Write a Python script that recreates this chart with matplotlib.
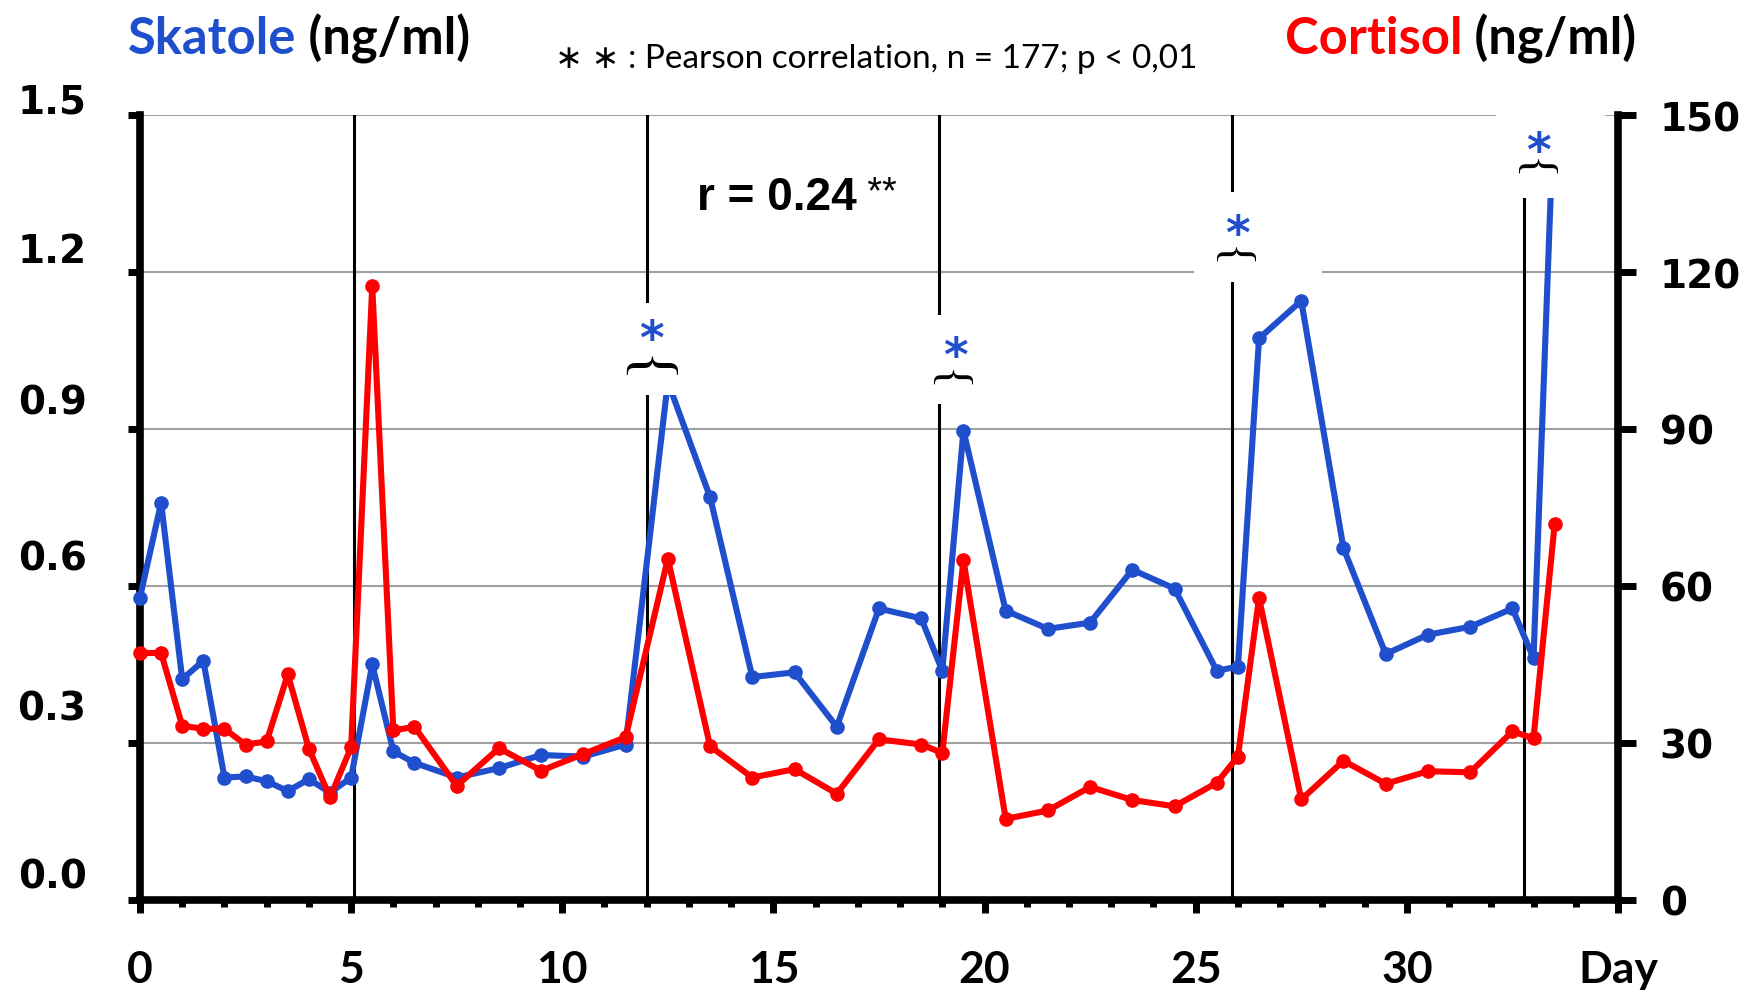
import numpy as np
import matplotlib.pyplot as plt
from matplotlib.patches import Rectangle
from matplotlib.transforms import ScaledTranslation

# sampling days (half-day steps at the start, then daily with extra points around the peaks)
days = [0, 0.5, 1, 1.5, 2, 2.5, 3, 3.5, 4, 4.5, 5, 5.5, 6, 6.5, 7.5, 8.5, 9.5, 10.5,
        11.5, 12.5, 13.5, 14.5, 15.5, 16.5, 17.5, 18.5, 19, 19.5, 20.5, 21.5, 22.5,
        23.5, 24.5, 25.5, 26, 26.5, 27.5, 28.5, 29.5, 30.5, 31.5, 32.5, 33, 33.5]

# skatole, ng/ml (left axis)
skatole = [0.578, 0.759, 0.422, 0.457, 0.234, 0.236, 0.227, 0.208, 0.231, 0.205,
           0.234, 0.45, 0.284, 0.262, 0.234, 0.252, 0.277, 0.274, 0.297, 0.99,
           0.77, 0.426, 0.435, 0.331, 0.557, 0.538, 0.438, 0.897, 0.553, 0.518,
           0.53, 0.631, 0.595, 0.438, 0.446, 1.073, 1.145, 0.672, 0.47, 0.507,
           0.522, 0.557, 0.462, 1.55]

# cortisol, ng/ml (right axis)
cortisol = [47.2, 47.2, 33.3, 32.7, 32.7, 29.7, 30.3, 43.1, 28.9, 19.6, 29.2, 117.3,
            32.4, 33.1, 21.8, 29.0, 24.7, 27.9, 31.1, 65.2, 29.4, 23.4, 25.0, 20.3,
            30.7, 29.7, 28.1, 64.9, 15.5, 17.1, 21.6, 19.1, 17.9, 22.4, 27.4, 57.7,
            19.2, 26.6, 22.2, 24.6, 24.4, 32.2, 30.9, 71.8]

event_days = [5.07, 12.0, 18.93, 25.85, 32.77]

# significance marks
star_x = [12.11, 19.32, 25.98, 33.12]
star_y = [1.07, 1.036, 1.27, 1.429]
brace_x = [11.9, 19.08, 25.79, 32.94]
brace_y = [1.016, 0.994, 1.23, 1.399]
brace_size = [44, 34, 34, 34]
# white boxes behind the marks (x0, x1, y0, y1)
boxes = [(11.4, 12.8, 0.965, 1.14), (18.6, 19.8, 0.948, 1.118),
         (24.96, 27.98, 1.181, 1.353), (32.1, 34.7, 1.341, 1.56)]

skatole_ticks = [0, 0.3, 0.6, 0.9, 1.2, 1.5]
skatole_labels = ['0.0', '0.3', '0.6', '0.9', '1.2', '1.5']
cortisol_ticks = [0, 30, 60, 90, 120, 150]
day_ticks = [0, 5, 10, 15, 20, 25, 30, 35]
day_labels = ['0', '5', '10', '15', '20', '25', '30', 'Day']

BLUE = '#1f4fcc'
RED = '#ff0000'

fig = plt.figure(figsize=(17.52, 9.95), dpi=100)
ax = fig.add_axes([0.0799, 0.0945, 0.8436, 0.7889])
ax.set_xlim(0, 35)
ax.set_ylim(0, 1.5)
ax2 = ax.twinx()
ax2.set_ylim(0, 150)

for v in skatole_ticks[1:]:
    ax.axhline(v, color='#a0a0a0', lw=1.5, zorder=1)
for d in event_days:
    ax.axvline(d, color='black', lw=2.2, zorder=2)

clip1 = Rectangle((-0.02, 0), 1.04, 1, transform=ax.transAxes)
l1, = ax.plot(days, skatole, color=BLUE, lw=4.4, marker='o', ms=9.5, zorder=3)
l1.set_clip_path(clip1)
clip2 = Rectangle((-0.02, 0), 1.04, 1, transform=ax2.transAxes)
l2, = ax2.plot(days, cortisol, color=RED, lw=4.4, marker='o', ms=9.5, zorder=3)
l2.set_clip_path(clip2)

for x0, x1, y0, y1 in boxes:
    ax2.add_patch(Rectangle((x0, y0), x1 - x0, y1 - y0, transform=ax.transData,
                            facecolor='white', edgecolor='none', zorder=4, clip_on=False))

for x, y in zip(star_x, star_y):
    ax2.text(x, y, '*', transform=ax.transData, color=BLUE, fontsize=34,
             family='DejaVu Sans', weight='bold', ha='center', va='center',
             zorder=5, clip_on=False)
for x, y, s in zip(brace_x, brace_y, brace_size):
    ax2.text(x, y, '{', transform=ax.transData, color='black', fontsize=s,
             family='Liberation Serif', rotation=-90, ha='center', va='center',
             zorder=5, clip_on=False)

rt = ax2.text(13.2, 1.343, 'r = 0.24', transform=ax.transData, fontsize=33,
              family='Liberation Sans', weight='bold', va='center', zorder=5)
ax2.annotate(' **', xy=(1, 1), xycoords=rt, va='top', ha='left', fontsize=27,
             family='Liberation Sans', zorder=5)

# axes styling
for side in ['top', 'right']:
    ax.spines[side].set_visible(False)
for side in ['top', 'left', 'bottom']:
    ax2.spines[side].set_visible(False)
ax.spines['left'].set_linewidth(5.5)
ax.spines['bottom'].set_linewidth(5.5)
ax2.spines['right'].set_linewidth(5.5)

ax.set_yticks(skatole_ticks)
ax.set_yticklabels(skatole_labels, family='DejaVu Sans', weight='bold', fontsize=28)
ax.tick_params(axis='y', direction='out', length=9, width=5, pad=29.5)
up = [27, 38, 31, 30, 25, 18]
for lbl, dy in zip(ax.get_yticklabels(), up):
    lbl.set_transform(lbl.get_transform() + ScaledTranslation(0, dy / 100, fig.dpi_scale_trans))

ax2.set_yticks(cortisol_ticks)
ax2.set_yticklabels([str(v) for v in cortisol_ticks], family='DejaVu Sans',
                    weight='bold', fontsize=28)
ax2.tick_params(axis='y', direction='out', length=13, width=5, pad=17)

ax.set_xticks(day_ticks)
ax.set_xticks(np.arange(0, 36, 1), minor=True)
ax.set_xticklabels(day_labels, family='Lato', weight='bold', fontsize=32)
ax.tick_params(axis='x', which='major', direction='out', length=9, width=5, pad=26)
ax.tick_params(axis='x', which='minor', direction='out', length=5, width=5)

# header texts
t1 = fig.text(128 / 1752, 1 - 40 / 995, 'Skatole', color=BLUE, fontsize=36.5,
              family='Lato', weight='bold', va='center')
ax.annotate(' (ng/ml)', xy=(1, 0), xycoords=t1, va='bottom', ha='left', fontsize=36.5,
            family='Lato', weight='bold', annotation_clip=False)
t2 = fig.text(1285 / 1752, 1 - 40 / 995, 'Cortisol', color=RED, fontsize=36.5,
              family='Lato', weight='bold', va='center')
ax.annotate(' (ng/ml)', xy=(1, 0), xycoords=t2, va='bottom', ha='left', fontsize=36.5,
            family='Lato', weight='bold', annotation_clip=False)
fig.text(555 / 1752, 1 - 59 / 995, '\u2217 \u2217 : Pearson correlation, n = 177; p < 0,01',
         fontsize=24, family=['Lato', 'DejaVu Sans'], va='center')

fig.savefig('out.png', dpi=100)
